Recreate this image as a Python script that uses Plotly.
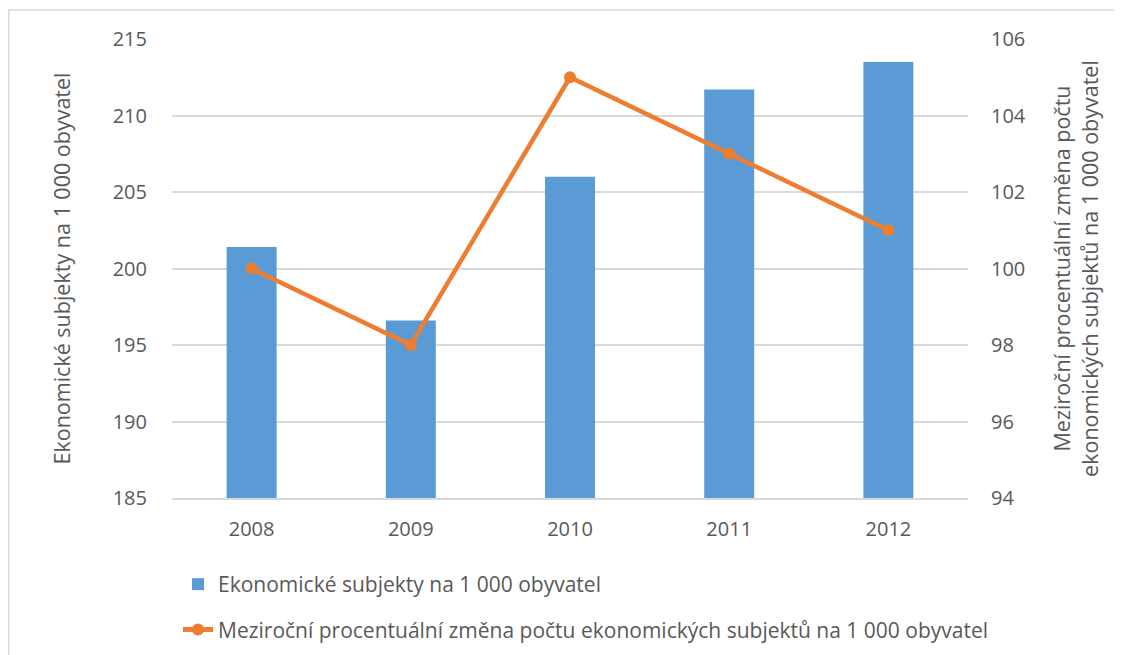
import plotly.graph_objects as go

years = ["2008", "2009", "2010", "2011", "2012"]
subjekty = [201.4, 196.6, 206.0, 211.7, 213.5]
zmena = [100, 98, 105, 103, 101]

left_ticks = [185, 190, 195, 200, 205, 210, 215]
right_ticks = [94, 96, 98, 100, 102, 104, 106]

name_bar = "Ekonomické subjekty na 1 000 obyvatel"
name_line = "Meziroční procentuální změna počtu ekonomických subjektů na 1 000 obyvatel"

# page has an 8px body margin, so the figure is a bit smaller than the window
W, H = 1114, 647
L, R, T, B = 164, 154, 31, 157
pw, ph = W - L - R, H - T - B

FONT = "Open Sans"
GREY = "#595959"

fig = go.Figure()
fig.add_trace(go.Bar(
    x=years, y=subjekty, name=name_bar, legendgroup="a",
    marker=dict(color="#5B9BD5", line=dict(width=0)),
))
fig.add_trace(go.Scatter(
    x=years, y=zmena, name=name_line, yaxis="y2", legendgroup="b",
    mode="lines+markers",
    line=dict(color="#ED7D31", width=4.5),
    marker=dict(color="#ED7D31", size=12),
))

# chart border (top and left edges only visible)
px = lambda v: (v - L) / pw
py = lambda v: 1 - (v - T) / ph
line_style = dict(color="#D9D9D9", width=1.5)
fig.add_shape(type="line", xref="paper", yref="paper",
              x0=px(0), x1=px(W + 5), y0=py(2), y1=py(2), line=line_style)
fig.add_shape(type="line", xref="paper", yref="paper",
              x0=px(0.8), x1=px(0.8), y0=py(2), y1=py(H + 5), line=line_style)

fig.update_layout(
    width=W, height=H,
    margin=dict(l=L, r=R, t=T, b=B, autoexpand=False),
    paper_bgcolor="white", plot_bgcolor="white",
    font=dict(family=FONT, size=20, color=GREY),
    bargap=0.686,
    xaxis=dict(
        type="category", showgrid=False, ticks="",
        showline=True, linecolor="#D9D9D9", linewidth=1.5,
        tickfont=dict(size=20, color=GREY), ticklabelstandoff=12,
    ),
    yaxis=dict(
        range=[185, 215], tickvals=left_ticks, showgrid=True,
        gridcolor="#D9D9D9", gridwidth=1.5, zeroline=False,
        tickfont=dict(size=20, color=GREY), ticklabelstandoff=24,
        title=dict(text=name_bar, font=dict(size=21.5, color=GREY), standoff=36),
    ),
    yaxis2=dict(
        range=[94, 106], tickvals=right_ticks, overlaying="y", side="right",
        showgrid=False, zeroline=False,
        tickfont=dict(size=20, color=GREY), ticklabelstandoff=22,
        title=dict(text="Meziroční procentuální změna počtu<br>ekonomických subjektů na 1 000 obyvatel",
                   font=dict(size=21.5, color=GREY), standoff=30),
    ),
    legend=dict(
        orientation="v", x=px(170), xanchor="left", y=py(556), yanchor="top",
        font=dict(size=21, color=GREY), traceorder="grouped",
        itemsizing="constant", tracegroupgap=15, bgcolor="rgba(0,0,0,0)",
    ),
    showlegend=True,
)

fig.write_html("out.html")
